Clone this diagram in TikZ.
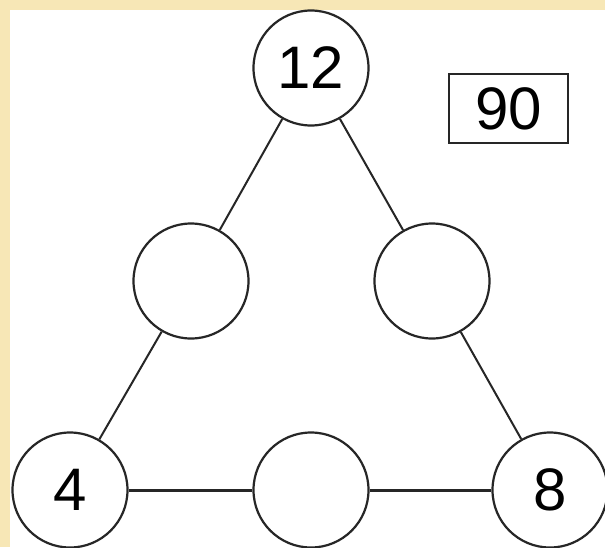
\documentclass[tikz,border=0pt]{standalone}
\usepackage{fontspec}
\setmainfont{Liberation Sans}
\definecolor{cream}{RGB}{247,231,182}
\begin{document}
\begin{tikzpicture}[x=1pt,y=-1pt,
  num/.style={circle,draw=black!85,line width=2.2pt,minimum size=115pt,inner sep=0pt,font=\fontsize{60}{60}\selectfont},
  tot/.style={rectangle,draw=black!85,line width=2.2pt,minimum width=119pt,minimum height=69pt,inner sep=0pt,font=\fontsize{60}{60}\selectfont},
  link/.style={draw=black!85,line width=2pt},
  blink/.style={draw=black!85,line width=3pt}]
\useasboundingbox (0,0) rectangle (605,547);
\fill[cream] (0,0) rectangle (605,547);
\fill[white] (10,10) rectangle (605,547);
\node[num] (t) at (311,68) {12};
\node[num] (ml) at (191,281) {};
\node[num] (mr) at (432,281) {};
\node[num] (bl) at (70,490) {4};
\node[num] (bm) at (311,490) {};
\node[num] (br) at (550,490) {8};
\node[tot] (box) at (508.5,108.5) {90};
\draw[link] (t) -- (ml);
\draw[link] (t) -- (mr);
\draw[link] (ml) -- (bl);
\draw[link] (mr) -- (br);
\draw[blink] (bl) -- (bm);
\draw[blink] (bm) -- (br);
\end{tikzpicture}
\end{document}
